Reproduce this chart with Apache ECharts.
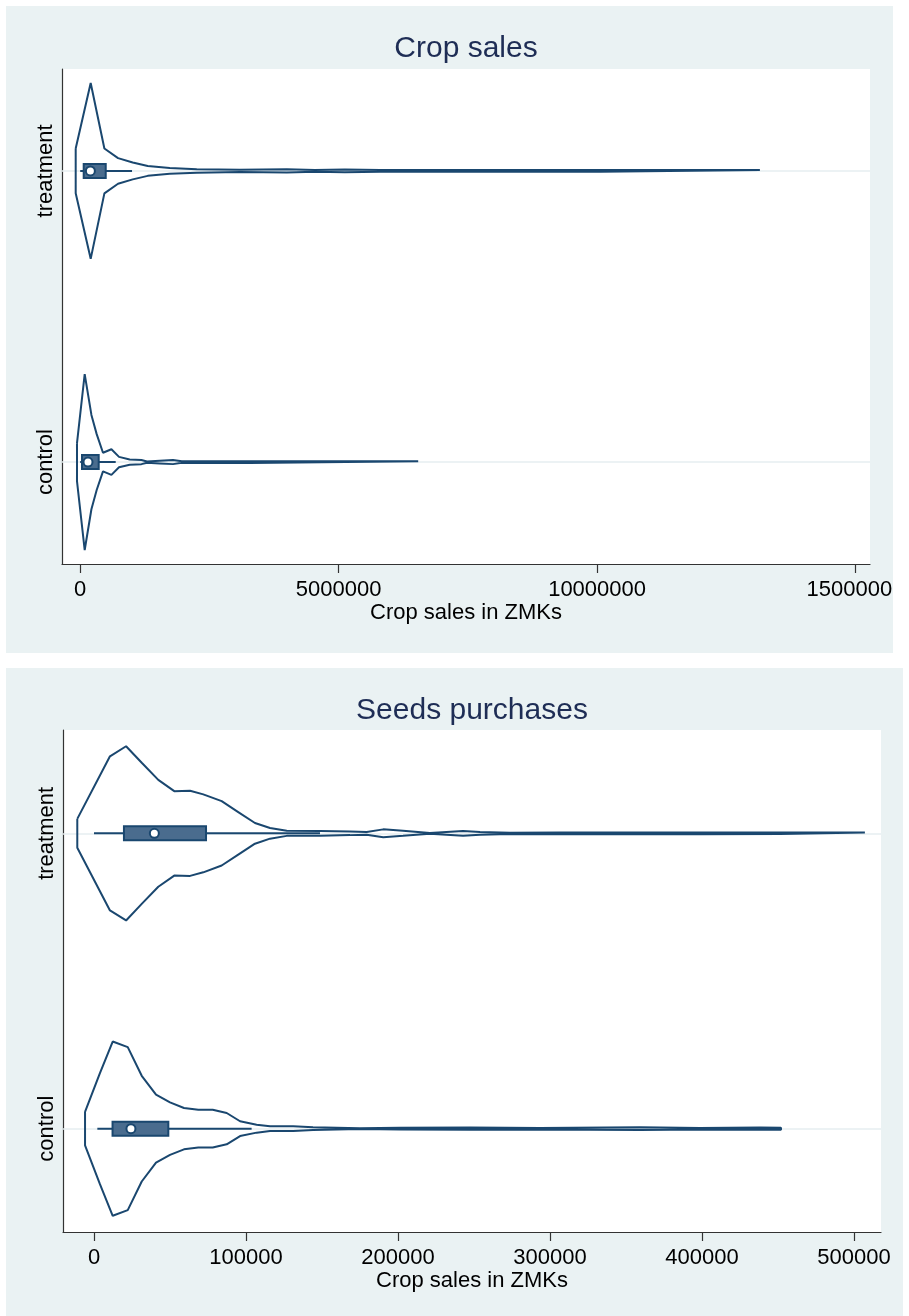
<!DOCTYPE html>
<html><head><meta charset="utf-8">
<script src="https://cdn.jsdelivr.net/npm/echarts@6/dist/echarts.min.js"></script>
<style>html,body{margin:0;padding:0;background:#fff}#chart{width:909px;height:1316px}</style>
</head><body><div id="chart"></div>
<script>
const categories = ['control', 'treatment'];
const titles = ['Crop sales', 'Seeds purchases'];
const xAxisName = 'Crop sales in ZMKs';
const cropTicks = [0, 5000000, 10000000, 15000000];
const seedTicks = [0, 100000, 200000, 300000, 400000, 500000];

// Crop sales – violin outlines (value, density half-width in category units)
const cropTreatX = [-87000, 203000, 468000, 732000, 1016000, 1307000, 1733000, 2255000, 3088000, 3997000, 4540000, 5120000, 5800000, 7150000, 10060000, 13150000];
const cropTreatW = [0.077, 0.302, 0.077, 0.044, 0.029, 0.017, 0.010, 0.006, 0.004, 0.0055, 0.003, 0.005, 0.003, 0.003, 0.003, 0.003];
const cropCtrlX = [-62000, 87000, 217000, 319000, 441000, 604000, 751000, 958000, 1185000, 1293000, 1539000, 1796000, 1965000, 3280000, 6539000];
const cropCtrlW = [0.065, 0.302, 0.162, 0.096, 0.032, 0.044, 0.018, 0.009, 0.007, 0.002, 0.0045, 0.007, 0.0025, 0.003, 0.003];
// Crop sales – box plots: [category, lower whisker, q1, median, q3, upper whisker]
const cropBoxes = [
  [0, 0, 35000, 151000, 358000, 687000],
  [1, 0, 68000, 197000, 494000, 1003000]
];

// Seeds purchases – violin outlines
const seedTreatX = [-11000, 10500, 21100, 31400, 42300, 52800, 63200, 71900, 84000, 94900, 105900, 115800, 126800, 148700, 168400, 179400, 190300, 203300, 221000, 242800, 254000, 273700, 306600, 346000, 398700, 451300, 507200];
const seedTreatW = [0.049, 0.261, 0.295, 0.239, 0.181, 0.143, 0.144, 0.132, 0.109, 0.072, 0.035, 0.018, 0.0085, 0.008, 0.006, 0.0044, 0.0135, 0.0085, 0.001, 0.0078, 0.005, 0.002, 0.003, 0.0025, 0.003, 0.0025, 0.0025];
const seedCtrlX = [-5900, 3900, 12300, 22200, 31400, 40800, 50000, 59200, 68600, 78100, 87300, 96100, 107000, 115800, 131100, 144100, 175000, 201300, 247400, 293400, 359200, 398700, 438200, 452000];
const seedCtrlW = [0.057, 0.188, 0.295, 0.276, 0.179, 0.115, 0.089, 0.070, 0.064, 0.064, 0.053, 0.025, 0.0135, 0.0078, 0.0078, 0.005, 0.0014, 0.0027, 0.004, 0.0025, 0.0044, 0.0025, 0.004, 0.0034];
const seedBoxes = [
  [0, 2200, 12200, 24300, 48900, 103700],
  [1, 0, 19700, 39700, 73700, 148700]
];

const NAVY = '#1a476f';
const FONT = 'Liberation Sans';

function violin(xs, ws, c) {
  const top = xs.map((x, i) => [x, c + ws[i]]);
  const bot = xs.map((x, i) => [x, c - ws[i]]).reverse();
  return top.concat(bot, [top[0]]);
}

function boxRender(params, api) {
  const c = api.value(0);
  const lo = api.coord([api.value(1), c]);
  const q1 = api.coord([api.value(2), c]);
  const md = api.coord([api.value(3), c]);
  const q3 = api.coord([api.value(4), c]);
  const hi = api.coord([api.value(5), c]);
  const h = 7;
  return {
    type: 'group',
    children: [
      { type: 'line', shape: { x1: lo[0], y1: lo[1], x2: hi[0], y2: hi[1] }, style: { stroke: NAVY, lineWidth: 2 } },
      { type: 'rect', shape: { x: q1[0], y: q1[1] - h, width: q3[0] - q1[0], height: 2 * h }, style: { fill: '#4a6c8e', stroke: NAVY, lineWidth: 2 } },
      { type: 'circle', shape: { cx: md[0], cy: md[1], r: 4.5 }, style: { fill: '#ffffff', stroke: NAVY, lineWidth: 2 } }
    ]
  };
}

function xAxis(gi, min, max, ticks) {
  return {
    type: 'value', gridIndex: gi, min: min, max: max,
    name: xAxisName, nameLocation: 'middle', nameGap: 37,
    nameTextStyle: { fontFamily: FONT, fontSize: 22, color: '#000' },
    axisLine: { show: true, onZero: false, lineStyle: { color: '#333', width: 1.2 } },
    axisTick: { show: true, length: 9, customValues: ticks, lineStyle: { color: '#333', width: 1.2 } },
    axisLabel: { customValues: ticks, margin: 15, fontFamily: FONT, fontSize: 22, color: '#000', formatter: v => String(v) },
    splitLine: { show: false }
  };
}
function yAxis(gi) {
  return {
    type: 'value', gridIndex: gi, min: -0.35, max: 1.35,
    axisLine: { show: true, onZero: false, lineStyle: { color: '#333', width: 1.2 } },
    axisTick: { show: false },
    axisLabel: { customValues: [0, 1], rotate: 90, margin: 5, fontFamily: FONT, fontSize: 22, color: '#000', formatter: v => categories[Math.round(v)] },
    splitLine: { show: false }
  };
}
function gridLines(gi) {
  return {
    type: 'line', xAxisIndex: gi, yAxisIndex: gi, data: [], z: 1, silent: true,
    markLine: { z: 1, silent: true, symbol: 'none', label: { show: false }, animation: false,
      lineStyle: { color: '#e6eef0', width: 1.5, type: 'solid' },
      data: [{ yAxis: 0 }, { yAxis: 1 }] }
  };
}
function violinSeries(gi, xs, ws, c) {
  return { type: 'line', xAxisIndex: gi, yAxisIndex: gi, data: violin(xs, ws, c), showSymbol: false, symbol: 'none',
    lineStyle: { color: NAVY, width: 2 }, z: 10, silent: true };
}
function boxSeries(gi, data) {
  return { type: 'custom', xAxisIndex: gi, yAxisIndex: gi, data: data, renderItem: boxRender, z: 11, silent: true,
    encode: { x: [1, 2, 3, 4, 5], y: 0 } };
}

const chart = echarts.init(document.getElementById('chart'), null, { renderer: 'canvas' });
chart.setOption({
  animation: false,
  backgroundColor: '#ffffff',
  graphic: [
    { type: 'rect', z: -10, shape: { x: 6, y: 6, width: 887, height: 647 }, style: { fill: '#eaf2f3' } },
    { type: 'rect', z: -10, shape: { x: 6, y: 668, width: 897, height: 648 }, style: { fill: '#eaf2f3' } },
    { type: 'rect', z: 100, shape: { x: 893, y: 540, width: 16, height: 120 }, style: { fill: '#ffffff' } }
  ],
  title: [
    { text: titles[0], left: 466, top: 34, textAlign: 'center', padding: 0, textStyle: { fontFamily: FONT, fontSize: 30, fontWeight: 'normal', color: '#1e2d55' } },
    { text: titles[1], left: 472, top: 696, textAlign: 'center', padding: 0, textStyle: { fontFamily: FONT, fontSize: 30, fontWeight: 'normal', color: '#1e2d55' } }
  ],
  grid: [
    { left: 62, top: 69, width: 808, height: 495, show: true, backgroundColor: '#ffffff', borderWidth: 0 },
    { left: 63, top: 730, width: 818, height: 502, show: true, backgroundColor: '#ffffff', borderWidth: 0 }
  ],
  xAxis: [xAxis(0, -352000, 15280000, cropTicks), xAxis(1, -20400, 517800, seedTicks)],
  yAxis: [yAxis(0), yAxis(1)],
  series: [
    gridLines(0), gridLines(1),
    violinSeries(0, cropTreatX, cropTreatW, 1),
    violinSeries(0, cropCtrlX, cropCtrlW, 0),
    violinSeries(1, seedTreatX, seedTreatW, 1),
    violinSeries(1, seedCtrlX, seedCtrlW, 0),
    boxSeries(0, cropBoxes),
    boxSeries(1, seedBoxes)
  ]
});
</script></body></html>
